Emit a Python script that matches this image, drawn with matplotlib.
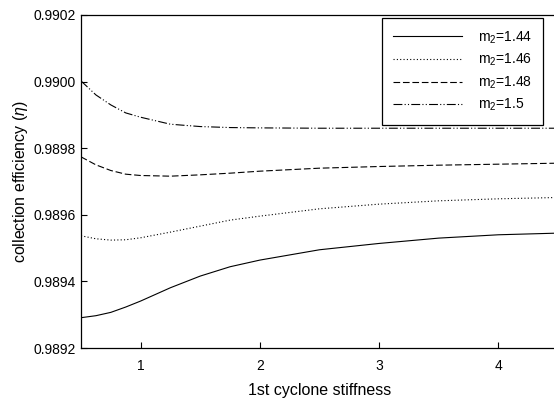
import matplotlib

matplotlib.use("Agg")
import matplotlib.pyplot as plt

plt.rcParams["font.family"] = ["Liberation Sans", "DejaVu Sans"]
plt.rcParams["mathtext.fontset"] = "custom"
plt.rcParams["mathtext.rm"] = "Liberation Sans"
plt.rcParams["mathtext.it"] = "Liberation Sans:italic"
plt.rcParams["mathtext.default"] = "regular"

stiffness = [0.5, 0.625, 0.75, 0.875, 1.0, 1.25, 1.5, 1.75, 2.0,
             2.5, 3.0, 3.5, 4.0, 4.5]

eta_144 = [0.989291, 0.989297, 0.989307, 0.989323, 0.989341, 0.989381,
           0.989416, 0.989444, 0.989464, 0.989495, 0.989514, 0.989530,
           0.989540, 0.989545]
eta_146 = [0.989537, 0.989528, 0.989524, 0.989525, 0.989531, 0.989548,
           0.989566, 0.989584, 0.989596, 0.989618, 0.989632, 0.989642,
           0.989648, 0.989652]
eta_148 = [0.989774, 0.989750, 0.989733, 0.989722, 0.989718, 0.989716,
           0.989720, 0.989725, 0.989731, 0.989740, 0.989745, 0.989749,
           0.989752, 0.989755]
eta_150 = [0.990002, 0.989960, 0.989930, 0.989906, 0.989893, 0.989872,
           0.989865, 0.989862, 0.989861, 0.989860, 0.989860, 0.989860,
           0.989860, 0.989860]

labels = ["m$_2$=1.44", "m$_2$=1.46", "m$_2$=1.48", "m$_2$=1.5"]
y_ticks = [0.9892, 0.9894, 0.9896, 0.9898, 0.9900, 0.9902]
x_ticks = [1, 2, 3, 4]

fig = plt.figure(figsize=(5.54, 4.0), dpi=100)
# right spine sits just outside the picture, as in the original crop
ax = fig.add_axes([81 / 554, 52 / 400, 477 / 554, 333 / 400])

series = [eta_144, eta_146, eta_148, eta_150]
styles = ["-", (0, (1, 2)), (0, (6, 2.5)), (0, (8, 2, 1, 2, 1, 2))]
for vals, ls, lab in zip(series, styles, labels):
    ax.plot(stiffness, vals, color="black", lw=0.8, ls=ls, label=lab)

ax.set_xlim(0.5, 4.5)
ax.set_ylim(0.9892, 0.9902)
ax.set_xticks(x_ticks)
ax.set_yticks(y_ticks)
ax.set_yticklabels([f"{v:.4f}" for v in y_ticks])
ax.tick_params(direction="in", length=4.5, width=0.8, labelsize=10,
               top=False, right=False)
ax.tick_params(axis="x", pad=8)
for s in ["left", "bottom", "top"]:
    ax.spines[s].set_linewidth(0.9)
ax.spines["right"].set_visible(False)

ax.set_xlabel("1st cyclone stiffness", fontsize=11.5, labelpad=7)
ax.set_ylabel(r"collection efficiency ($\mathit{\eta}$)", fontsize=11.5, labelpad=3)

leg = ax.legend(loc="upper right", bbox_to_anchor=(543 / 554, 1 - 18 / 400),
                bbox_transform=fig.transFigure, fontsize=10, handlelength=5.0,
                handletextpad=1.1, labelspacing=0.45, borderpad=0.8,
                fancybox=False, framealpha=1, borderaxespad=0)
leg.get_frame().set_edgecolor("black")
leg.get_frame().set_linewidth(0.9)

fig.savefig("out.png", dpi=100, facecolor="white")
